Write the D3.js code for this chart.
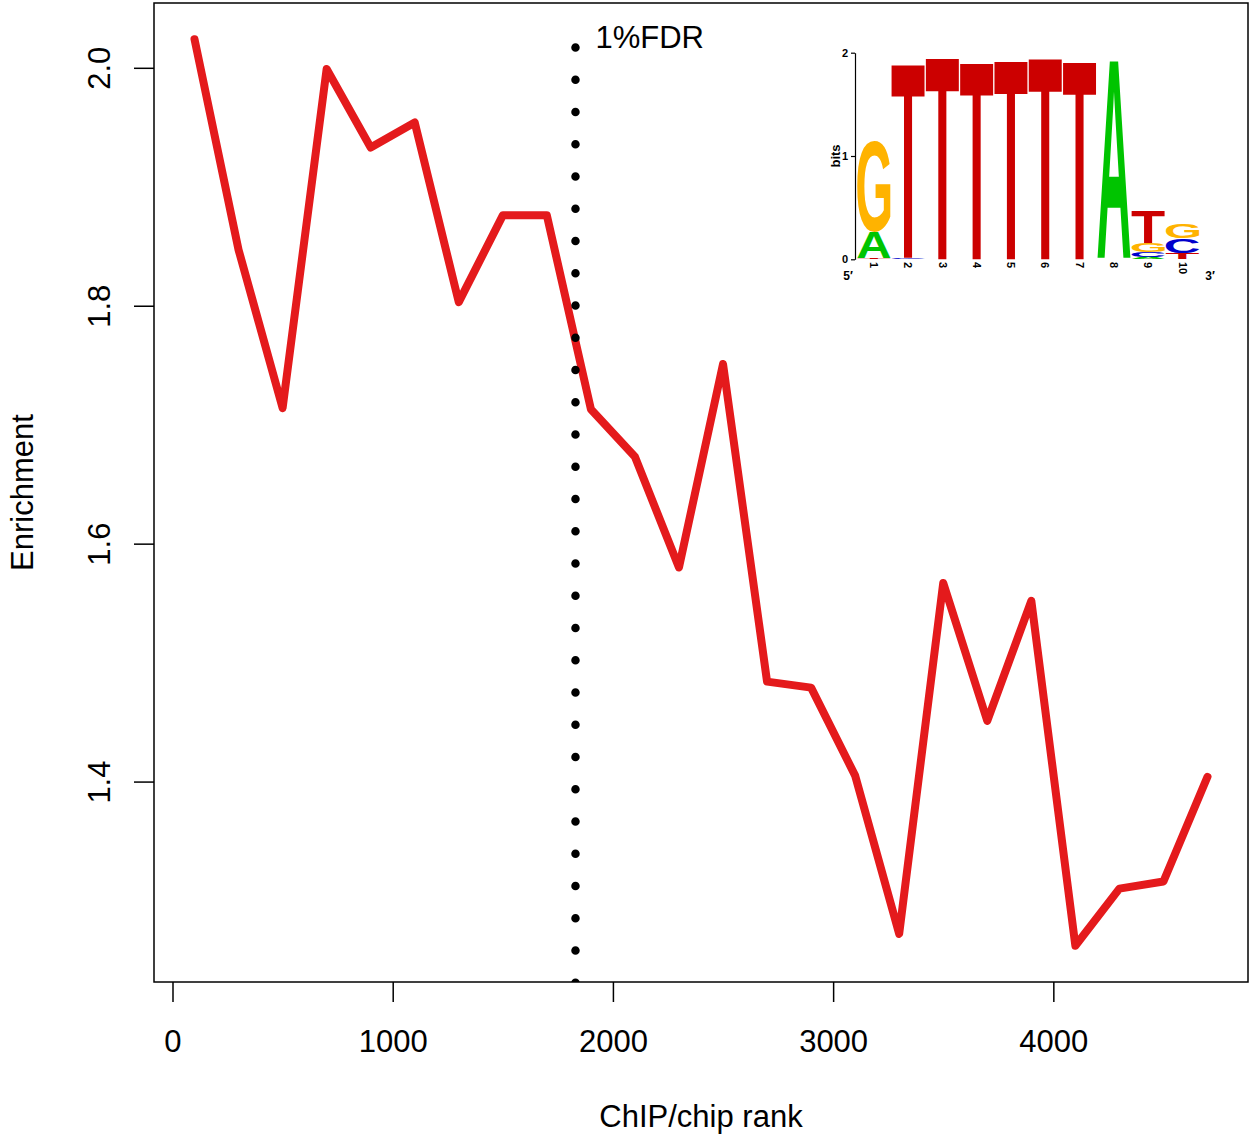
<!DOCTYPE html>
<html>
<head>
<meta charset="utf-8">
<script src="https://cdn.jsdelivr.net/npm/d3@7"></script>
<style>
  body { margin: 0; background: #ffffff; }
  svg { display: block; }
</style>
</head>
<body>
<svg id="chart" width="1252" height="1135"></svg>
<script>
// ---------------- data ----------------
const ranks = [100, 300, 500, 700, 900, 1100, 1300, 1500, 1700, 1900, 2100, 2300,
               2500, 2700, 2900, 3100, 3300, 3500, 3700, 3900, 4100, 4300, 4500, 4700];
const enrichment = [2.024, 1.847, 1.714, 1.999, 1.933, 1.954, 1.803, 1.876, 1.876, 1.713, 1.673, 1.580,
                    1.751, 1.484, 1.479, 1.405, 1.272, 1.567, 1.451, 1.552, 1.262, 1.310, 1.316, 1.404];
const xTicks = [0, 1000, 2000, 3000, 4000];
const yTicks = [1.4, 1.6, 1.8, 2.0];
const xTitle = "ChIP/chip rank";
const yTitle = "Enrichment";
const fdrRank = 1830;
const fdrTop = 2.017;
const fdrLabel = "1%FDR";

// sequence logo (bits per position)
const logoPositions = [1, 2, 3, 4, 5, 6, 7, 8, 9, 10];
const logoA = [0.25, 0,     0,    0,    0,    0,     0,    1.92, 0.02, 0];
const logoC = [0,    0.015, 0,    0,    0,    0,     0,    0,    0.05, 0.14];
const logoG = [0.88, 0,     0,    0,    0,    0,     0,    0,    0.09, 0.14];
const logoT = [0.008, 1.88, 1.96, 1.91, 1.93, 1.955, 1.92, 0,    0.307, 0.06];
const logoYTicks = [0, 1, 2];
const logoYTitle = "bits";
const logoEnds = ["5\u2032", "3\u2032"];

// ---------------- layout ----------------
const svg = d3.select("#chart");
const plot = { left: 154, right: 1248, top: 3, bottom: 982 };
const FONT = "'Liberation Sans', Arial, Helvetica, sans-serif";
const FS = 31;

function padDomain(ext, f) { const p = (ext[1] - ext[0]) * f; return [ext[0] - p, ext[1] + p]; }

const x = d3.scaleLinear().domain(padDomain(d3.extent(ranks), 0.04)).range([plot.left, plot.right]);
const y = d3.scaleLinear().domain(padDomain(d3.extent(enrichment), 0.04)).range([plot.bottom, plot.top]);

svg.append("rect").attr("width", 1252).attr("height", 1135).attr("fill", "#fff");

svg.append("defs").append("clipPath").attr("id", "plotclip")
  .append("rect").attr("x", plot.left).attr("y", plot.top)
  .attr("width", plot.right - plot.left).attr("height", plot.bottom - plot.top);

// x axis
const gx = svg.append("g").attr("transform", `translate(0,${plot.bottom})`)
  .call(d3.axisBottom(x).tickValues(xTicks).tickFormat(d3.format("d")).tickSize(20).tickPadding(28));
gx.select(".domain").remove();
gx.selectAll(".tick line").attr("stroke", "#000").attr("stroke-width", 1.5);
gx.selectAll(".tick text").attr("font-family", FONT).attr("font-size", FS).attr("fill", "#000");

// y axis
const gy = svg.append("g").attr("transform", `translate(${plot.left},0)`)
  .call(d3.axisLeft(y).tickValues(yTicks).tickFormat(d3.format(".1f")).tickSize(20));
gy.select(".domain").remove();
gy.selectAll(".tick line").attr("stroke", "#000").attr("stroke-width", 1.5);
gy.selectAll(".tick text")
  .attr("x", null).attr("dy", null)
  .attr("transform", "translate(-44.5,0) rotate(-90)")
  .attr("text-anchor", "middle")
  .attr("font-family", FONT).attr("font-size", FS).attr("fill", "#000");

// titles
svg.append("text").attr("x", (plot.left + plot.right) / 2).attr("y", 1127)
  .attr("text-anchor", "middle").attr("font-family", FONT).attr("font-size", FS).text(xTitle);
svg.append("text").attr("transform", `translate(33,${(plot.top + plot.bottom) / 2}) rotate(-90)`)
  .attr("text-anchor", "middle").attr("font-family", FONT).attr("font-size", FS).text(yTitle);

// data line
const gplot = svg.append("g").attr("clip-path", "url(#plotclip)");
gplot.append("path")
  .datum(ranks.map((r, i) => [r, enrichment[i]]))
  .attr("fill", "none").attr("stroke", "#E41A1C").attr("stroke-width", 8)
  .attr("stroke-linejoin", "round").attr("stroke-linecap", "round")
  .attr("d", d3.line().x(d => x(d[0])).y(d => y(d[1])));

// FDR dotted line
gplot.append("line")
  .attr("x1", x(fdrRank)).attr("x2", x(fdrRank))
  .attr("y1", y(fdrTop)).attr("y2", plot.bottom + 12)
  .attr("stroke", "#000").attr("stroke-width", 8.5)
  .attr("stroke-linecap", "round").attr("stroke-dasharray", "0 32.25");
svg.append("text").attr("x", x(fdrRank) + 20).attr("y", y(fdrTop))
  .attr("font-family", FONT).attr("font-size", FS).text(fdrLabel);

// box
svg.append("rect").attr("x", plot.left).attr("y", plot.top)
  .attr("width", plot.right - plot.left).attr("height", plot.bottom - plot.top)
  .attr("fill", "none").attr("stroke", "#000").attr("stroke-width", 1.5);

// ---------------- sequence logo inset ----------------
const lx = d3.scaleLinear().domain([0.5, 10.5]).range([856.7, 1199.7]);
const ly = d3.scaleLinear().domain([0, 2]).range([259.3, 52.7]);
const LFONT_FAMILY = "'Liberation Sans', Arial, Helvetica, sans-serif";
const LSIZE = 200;
const ctx = document.createElement("canvas").getContext("2d");
ctx.font = `bold ${LSIZE}px ${LFONT_FAMILY}`;
const inkCache = {};
function ink(ch) {
  if (!inkCache[ch]) {
    const m = ctx.measureText(ch);
    inkCache[ch] = { l: m.actualBoundingBoxLeft, r: m.actualBoundingBoxRight,
                     a: m.actualBoundingBoxAscent, d: m.actualBoundingBoxDescent };
  }
  return inkCache[ch];
}
const letterColor = { A: "#00C400", C: "#0000CC", G: "#FFB300", T: "#CC0000" };
const gl = svg.append("g");

logoPositions.forEach((p, i) => {
  const entries = [["A", logoA[i]], ["C", logoC[i]], ["G", logoG[i]], ["T", logoT[i]]]
    .filter(e => e[1] > 0)
    .sort((a, b) => a[1] - b[1]);
  let base = 0;
  const x0 = lx(p - 0.5) + 0.5, x1 = lx(p + 0.5) - 0.5;
  entries.forEach(([ch, h]) => {
    const ybot = ly(base), ytop = ly(base + h);
    base += h;
    const m = ink(ch);
    const sx = (x1 - x0) / (m.l + m.r);
    const sy = (ybot - ytop) / (m.a + m.d);
    gl.append("text")
      .attr("transform", `translate(${x0 + m.l * sx},${ybot - m.d * sy}) scale(${sx},${sy})`)
      .attr("font-family", LFONT_FAMILY).attr("font-weight", "bold").attr("font-size", LSIZE)
      .attr("fill", letterColor[ch]).text(ch);
  });
});

// logo y axis
const gly = svg.append("g").attr("transform", "translate(855,0)")
  .call(d3.axisLeft(ly).tickValues(logoYTicks).tickFormat(d3.format("d")).tickSize(4).tickSizeOuter(0).tickPadding(3));
gly.select(".domain").attr("stroke", "#000").attr("stroke-width", 1.2);
gly.selectAll(".tick line").attr("stroke", "#000").attr("stroke-width", 1.2);
gly.selectAll(".tick text").attr("font-family", FONT).attr("font-weight", "bold")
  .attr("font-size", 11).attr("fill", "#000");
svg.append("text").attr("transform", "translate(840,156) rotate(-90)")
  .attr("text-anchor", "middle").attr("font-family", FONT).attr("font-weight", "bold")
  .attr("font-size", 13).text(logoYTitle);

// position numbers (rotated)
gl.selectAll("text.pos").data(logoPositions).enter().append("text")
  .attr("class", "pos")
  .attr("transform", d => `translate(${lx(d)},262) rotate(90)`)
  .attr("dy", "0.35em")
  .attr("font-family", FONT).attr("font-weight", "bold").attr("font-size", 11)
  .text(d => d);
svg.append("text").attr("x", 848).attr("y", 280).attr("text-anchor", "middle")
  .attr("font-family", FONT).attr("font-weight", "bold").attr("font-size", 12).text(logoEnds[0]);
svg.append("text").attr("x", 1210).attr("y", 280).attr("text-anchor", "middle")
  .attr("font-family", FONT).attr("font-weight", "bold").attr("font-size", 12).text(logoEnds[1]);
</script>
</body>
</html>
